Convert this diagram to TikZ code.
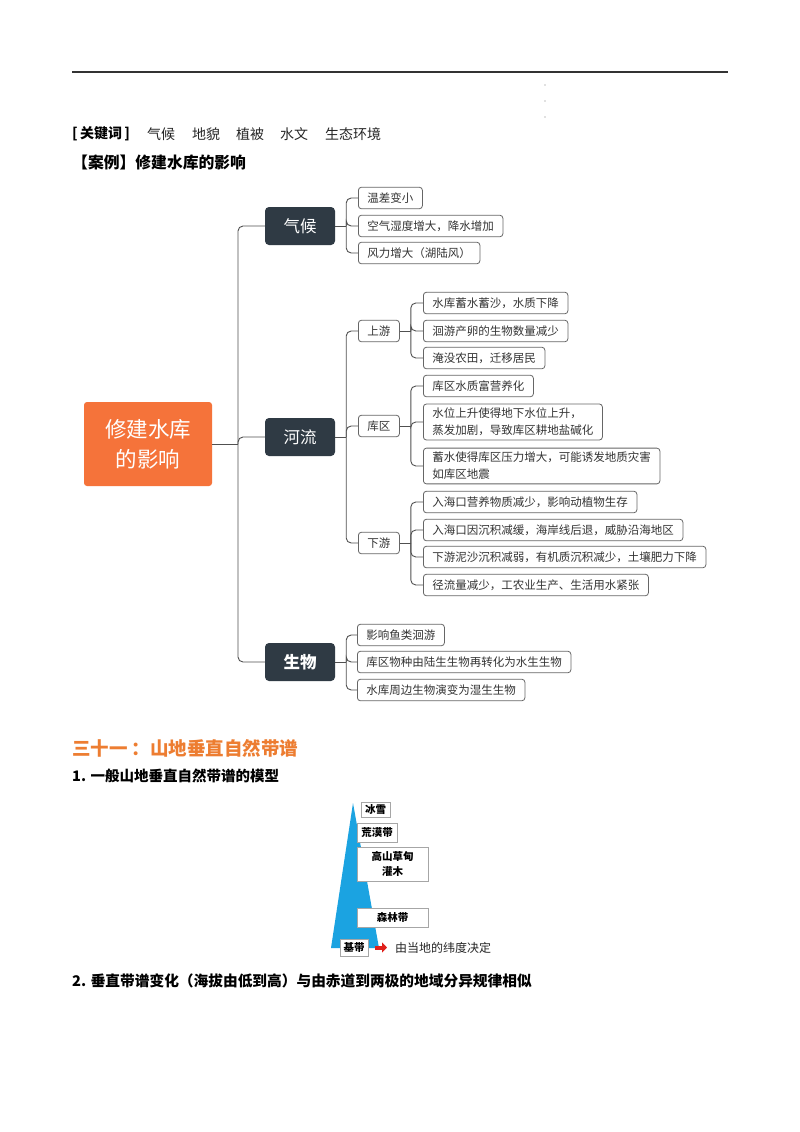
\documentclass[tikz,border=0pt]{standalone}
\usepackage{fontspec}
\setmainfont{Noto Sans CJK SC}
\usetikzlibrary{arrows.meta}
\definecolor{orangeR}{HTML}{F5733A}
\definecolor{darkbox}{HTML}{2F3A44}
\definecolor{linec}{HTML}{505050}
\definecolor{sky}{HTML}{1BA3E1}
\definecolor{headO}{HTML}{ED7D31}
\definecolor{arrowR}{HTML}{E0201B}
\begin{document}
\begin{tikzpicture}[x=1pt,y=-1pt,
 conn/.style={draw=linec, line width=0.9pt, rounded corners=5pt},
 leaf/.style={draw=gray!80!black, fill=white, rounded corners=3pt, line width=0.8pt, font=\fontsize{11.5}{17}\selectfont, text=black!80, inner xsep=9pt, inner ysep=0pt, minimum height=21.5pt, anchor=west, align=left},
 leaftwo/.style={leaf, inner ysep=4pt},
 cat/.style={fill=darkbox, rounded corners=4pt, text=white, font=\fontsize{16.5}{20}\selectfont, minimum width=70pt, minimum height=38pt, inner sep=0pt},
 mbox/.style={draw=gray!70, fill=white, line width=0.6pt, font=\bfseries\fontsize{10.5}{15}\selectfont, inner sep=0pt, align=center},
 txt/.style={inner sep=0pt, anchor=west}
]
\useasboundingbox[fill=white] (0,0) rectangle (800,1132);
% header rule and dots
\draw[line width=1.6pt, black!80] (72,72) -- (728,72);
\foreach \yy in {85,101,117} \fill[gray] (545,\yy) circle (0.6pt);
% keywords
\node[txt, font=\bfseries\fontsize{14}{16}\selectfont] (kw) at (72,134) {[\,关键词\,]};
\node[txt, font=\fontsize{14}{16}\selectfont, text=black!85] (k1) at (147,134) {气候};
\node[txt, font=\fontsize{14}{16}\selectfont, text=black!85] (k2) at (192,134) {地貌};
\node[txt, font=\fontsize{14}{16}\selectfont, text=black!85] (k3) at (236,134) {植被};
\node[txt, font=\fontsize{14}{16}\selectfont, text=black!85] (k4) at (280,134) {水文};
\node[txt, font=\fontsize{14}{16}\selectfont, text=black!85] (k5) at (325,134) {生态环境};
\node[txt, font=\bfseries\fontsize{15.8}{18}\selectfont] (case) at (72,162) {【案例】修建水库的影响};

% root
\node[fill=orangeR, rounded corners=3pt, text=white, font=\fontsize{21.5}{30}\selectfont, align=center, minimum width=128pt, minimum height=84pt, inner sep=0pt] (root) at (148,444) {修建水库\\的影响};
% categories
\node[cat] (qh) at (300,226) {气候};
\node[cat] (hl) at (300,437) {河流};
\node[cat, font=\bfseries\fontsize{16.5}{20}\selectfont] (sw) at (300,662) {生物};

\coordinate (tr) at (238,444);
\draw[conn] (root.east) -- (tr);
\draw[conn] (tr) |- (qh.west);
\draw[conn] (tr) |- (hl.west);
\draw[conn] (tr) |- (sw.west);

% climate leaves
\node[leaf] (q1) at (358,198) {温差变小};
\node[leaf] (q2) at (358,226) {空气湿度增大，降水增加};
\node[leaf] (q3) at (358,253) {风力增大（湖陆风）};
\draw[conn] (qh.east) -- ++(11,0) coordinate (qb);
\foreach \n in {q1,q2,q3} \draw[conn] (qb) |- (\n.west);

% river sub
\node[leaf] (sy) at (358,331) {上游};
\node[leaf] (kq) at (358,426) {库区};
\node[leaf] (xy) at (358,543) {下游};
\draw[conn] (hl.east) -- ++(11,0) coordinate (hb);
\foreach \n in {sy,kq,xy} \draw[conn] (hb) |- (\n.west);

\node[leaf] (s1) at (423,303) {水库蓄水蓄沙，水质下降};
\node[leaf] (s2) at (423,331) {洄游产卵的生物数量减少};
\node[leaf] (s3) at (423,358) {淹没农田，迁移居民};
\draw[conn] (sy.east) -- ++(11,0) coordinate (sb);
\foreach \n in {s1,s2,s3} \draw[conn] (sb) |- (\n.west);

\node[leaf] (r1) at (423,386) {库区水质富营养化};
\node[leaftwo] (r2) at (423,422) {水位上升使得地下水位上升，\\蒸发加剧，导致库区耕地盐碱化};
\node[leaftwo] (r3) at (423,466) {蓄水使得库区压力增大，可能诱发地质灾害\\如库区地震};
\draw[conn] (kq.east) -- ++(11,0) coordinate (rb);
\foreach \n in {r1,r2,r3} \draw[conn] (rb) |- (\n.west);

\node[leaf] (x1) at (423,502) {入海口营养物质减少，影响动植物生存};
\node[leaf] (x2) at (423,530) {入海口因沉积减缓，海岸线后退，威胁沿海地区};
\node[leaf] (x3) at (423,557) {下游泥沙沉积减弱，有机质沉积减少，土壤肥力下降};
\node[leaf] (x4) at (423,585) {径流量减少，工农业生产、生活用水紧张};
\draw[conn] (xy.east) -- ++(11,0) coordinate (xb);
\foreach \n in {x1,x2,x3,x4} \draw[conn] (xb) |- (\n.west);

% biology leaves
\node[leaf] (b1) at (357,635) {影响鱼类洄游};
\node[leaf] (b2) at (357,662) {库区物种由陆生生物再转化为水生生物};
\node[leaf] (b3) at (357,690) {水库周边生物演变为湿生生物};
\draw[conn] (sw.east) -- ++(11,0) coordinate (bb);
\foreach \n in {b1,b2,b3} \draw[conn] (bb) |- (\n.west);

% section 31
\node[txt, text=headO, font=\bfseries\fontsize{18.5}{22}\selectfont] (h31) at (72,748) {三十一\hspace{4pt}：山地垂直自然带谱};
\node[txt, font=\bfseries\fontsize{14.5}{17}\selectfont] (h1) at (72,776) {1. 一般山地垂直自然带谱的模型};

% mountain
\fill[sky] (353,803) -- (331,948) -- (379,948) -- cycle;
\node[mbox, minimum width=29pt, minimum height=15pt] (bx) at (375.5,809.5) {冰雪};
\node[mbox, minimum width=40pt, minimum height=19pt] (hm) at (377,832.5) {荒漠带};
\node[mbox, minimum width=71pt, minimum height=34pt] (gs) at (392.5,864) {高山草甸\\灌木};
\node[mbox, minimum width=71pt, minimum height=19pt] (sl) at (392.5,917.5) {森林带};
\node[mbox, minimum width=28pt, minimum height=17pt] (jd) at (354,947.5) {基带};
\node[txt, font=\fontsize{12}{14}\selectfont, text=black!85] (wd) at (395,947.5) {由当地的纬度决定};
\draw[arrowR, line width=4pt, -{Triangle[length=5pt,width=10pt]}, shorten <=7pt, shorten >=8pt] (jd.east) -- (wd.west);

\node[txt, font=\bfseries\fontsize{14.7}{17}\selectfont] (h2) at (72,981) {2. 垂直带谱变化（海拔由低到高）与由赤道到两极的地域分异规律相似};
\end{tikzpicture}
\end{document}
